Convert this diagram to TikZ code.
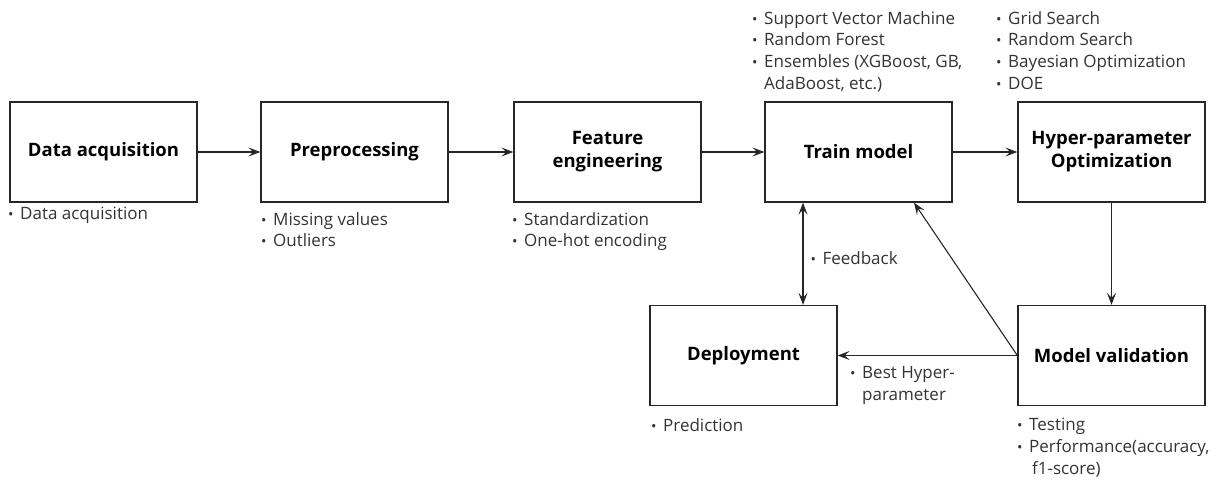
\documentclass[tikz,border=0pt]{standalone}
\usepackage{fontspec}
\setmainfont{Open Sans}
\usetikzlibrary{arrows.meta,calc}

% bullet item and continuation line for the side notes
\newcommand{\itm}[1]{\makebox[12pt][l]{\scalebox{0.85}{•}}#1}
\newcommand{\cnt}[1]{\hspace*{12pt}#1}

\begin{document}
\begin{tikzpicture}[x=1pt,y=-1pt,
  stage/.style={draw=black!85,line width=1.3pt,minimum width=187pt,minimum height=100pt,
    inner sep=0pt,align=center,font=\fontsize{18.5}{23}\selectfont\bfseries},
  note/.style={anchor=north west,inner sep=0pt,align=left,
    font=\fontsize{17}{21.8}\selectfont,text=black!80},
  flow/.style={draw=black!85,line width=1.1pt,-{Stealth[length=12pt,width=9pt,inset=5pt]}},
  both/.style={flow,{Stealth[length=12pt,width=9pt,inset=5pt]}-{Stealth[length=12pt,width=9pt,inset=5pt]}}]
\useasboundingbox (0,0) rectangle (1220,479);

% pipeline stages
\node[stage] (acq)    at (103.5,152) {Data acquisition};
\node[stage] (pre)    at (354.5,152) {Preprocessing};
\node[stage] (feat)   at (607.5,152) {Feature\\engineering};
\node[stage] (train)  at (858.5,152) {Train model};
\node[stage] (hyper)  at (1111.5,152) {Hyper-parameter\\Optimization};
\node[stage] (deploy) at (743.5,355.5) {Deployment};
\node[stage] (valid)  at (1111.5,355.5) {Model validation};

% side notes
\node[note] (nacq)   at (8,207)   {\itm{Data acquisition}};
\node[note] (npre)   at (261,212) {\itm{Missing values}\\\itm{Outliers}};
\node[note] (nfeat)  at (512,212) {\itm{Standardization}\\\itm{One-hot encoding}};
\node[note] (ntrain) at (752,11)  {\itm{Support Vector Machine}\\\itm{Random Forest}\\\itm{Ensembles (XGBoost, GB,}\\\cnt{AdaBoost, etc.)}};
\node[note] (nhyper) at (996,11)  {\itm{Grid Search}\\\itm{Random Search}\\\itm{Bayesian Optimization}\\\itm{DOE}};
\node[note] (ndep)   at (651,418) {\itm{Prediction}};
\node[note] (nval)   at (1017,418) {\itm{Testing}\\\itm{Performance(accuracy,}\\\cnt{\,f1-score)}};

% connectors
\coordinate (fb) at (803,0);
\coordinate (dg) at (914,0);
\draw[flow] (acq) -- (pre);
\draw[flow] (pre) -- (feat);
\draw[flow] (feat) -- (train);
\draw[flow] (train) -- (hyper);
\draw[flow] (hyper) -- (valid);
\draw[both] (train.south -| fb) -- (deploy.north -| fb)
  node[note,anchor=west,pos=0.5,xshift=7pt,yshift=-4pt] (nfb) {\itm{Feedback}};
\draw[flow] (valid.west) -- (train.south -| dg);
\draw[flow] (valid.west) -- (deploy.east);
\node[note] (nbest) at (850,366) {\itm{Best Hyper-}\\\cnt{parameter}};
\end{tikzpicture}
\end{document}
